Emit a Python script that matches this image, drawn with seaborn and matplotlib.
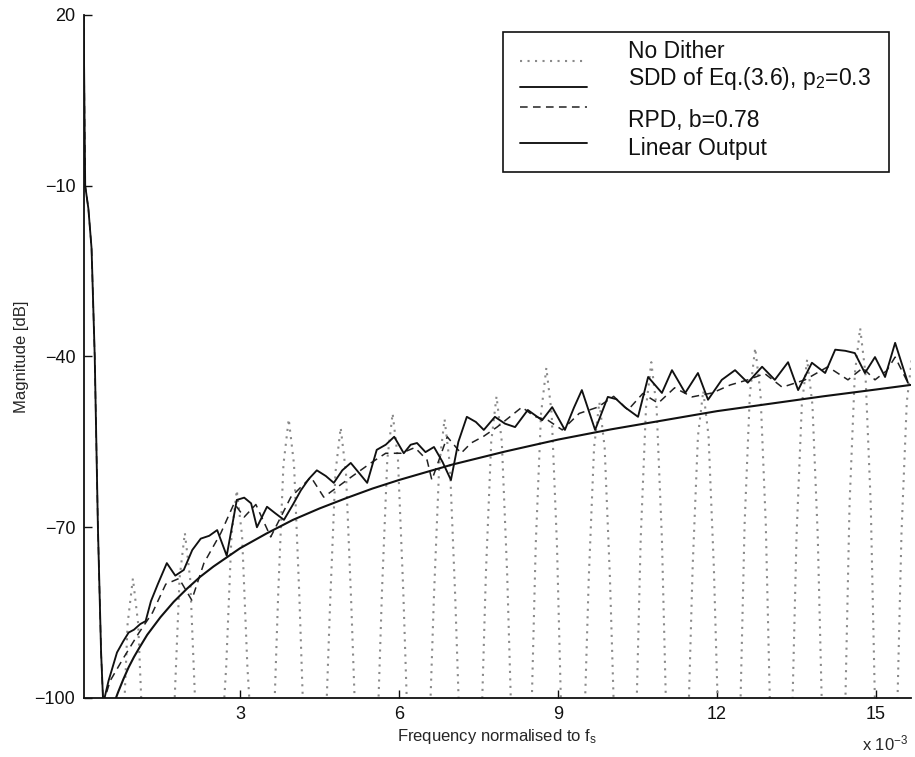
import matplotlib
matplotlib.use("Agg")
import matplotlib.pyplot as plt
from matplotlib.patches import Rectangle
from matplotlib.lines import Line2D
import pandas as pd
import seaborn as sns

# Frequency axis in units of 1e-3 (normalised to fs), magnitudes in dB.

# No dither: harmonic lobes (each lobe listed left leg -> peak -> right leg)
nodither_x = [
    0.68, 0.78, 0.88, 0.98, 1.08, 1.18, 1.28,
    1.66, 1.76, 1.86, 1.96, 2.06, 2.16, 2.26,
    2.64, 2.74, 2.84, 2.94, 3.04, 3.14, 3.24,
    3.62, 3.72, 3.82, 3.92, 4.02, 4.12, 4.22,
    4.60, 4.70, 4.80, 4.90, 5.00, 5.10, 5.20,
    5.58, 5.68, 5.78, 5.88, 5.98, 6.08, 6.18,
    6.56, 6.66, 6.76, 6.86, 6.96, 7.06, 7.16,
    7.54, 7.64, 7.74, 7.84, 7.94, 8.04, 8.14,
    8.48, 8.58, 8.68, 8.78, 8.88, 8.98, 9.08,
    9.48, 9.58, 9.68, 9.78, 9.88, 9.98, 10.08,
    10.46, 10.56, 10.66, 10.76, 10.86, 10.96, 11.06,
    11.44, 11.54, 11.64, 11.74, 11.84, 11.94, 12.04,
    12.42, 12.52, 12.62, 12.72, 12.82, 12.92, 13.02,
    13.40, 13.50, 13.60, 13.70, 13.80, 13.90, 14.00,
    14.40, 14.50, 14.60, 14.70, 14.80, 14.90, 15.00,
    15.38, 15.48, 15.58, 15.68, 15.78, 15.88, 15.98,
]
nodither_y = [
    -110, -110, -87, -79, -87, -110, -110,
    -110, -102, -79, -71, -79, -102, -110,
    -110, -94.5, -71.5, -63.5, -71.5, -94.5, -110,
    -110, -82, -59, -51, -59, -82, -110,
    -110, -83.5, -60.5, -52.5, -60.5, -83.5, -110,
    -110, -81, -58, -50, -58, -81, -110,
    -110, -82, -59, -51, -59, -82, -110,
    -110, -78, -55, -47, -55, -78, -110,
    -110, -73, -50, -42, -50, -73, -110,
    -110, -79, -56, -48, -56, -79, -110,
    -110, -72, -49, -41, -49, -72, -110,
    -110, -77, -54, -46, -54, -77, -110,
    -110, -69.5, -46.5, -38.5, -46.5, -69.5, -110,
    -110, -71.5, -48.5, -40.5, -48.5, -71.5, -110,
    -110, -66, -43, -35, -43, -66, -110,
    -110, -71, -48, -40, -48, -71, -110,
]

# SDD of Eq.(3.6), p2 = 0.3
sdd_x = [0.05, 0.08, 0.14, 0.20, 0.26, 0.32, 0.38, 0.42, 0.52, 0.68, 0.80, 0.90,
         1.00, 1.12, 1.22, 1.32, 1.45, 1.62, 1.78, 1.94, 2.10, 2.26, 2.42, 2.57,
         2.75, 2.94, 3.08, 3.21, 3.32, 3.51, 3.66, 3.83, 4.00, 4.15, 4.30, 4.45,
         4.62, 4.77, 4.93, 5.09, 5.25, 5.40, 5.58, 5.75, 5.91, 6.09, 6.22, 6.34,
         6.50, 6.66, 6.82, 6.98, 7.12, 7.28, 7.45, 7.60, 7.81, 8.00, 8.19, 8.43,
         8.70, 8.89, 9.13, 9.30, 9.45, 9.70, 9.94, 10.10, 10.26, 10.51, 10.70,
         10.96, 11.15, 11.40, 11.64, 11.83, 12.09, 12.34, 12.58, 12.85, 13.09,
         13.34, 13.53, 13.79, 14.04, 14.23, 14.42, 14.60, 14.79, 14.98, 15.17,
         15.36, 15.60]
sdd_y = [20, -10, -14, -21, -40, -70, -92, -101, -97, -92, -90, -88.5,
         -88, -87, -86.5, -83, -80, -76.3, -78.5, -77.5, -74, -72, -71.5, -70.5,
         -75, -65.2, -64.8, -65.8, -70, -66.4, -67.5, -68.7, -66, -63.5, -61.5, -60,
         -61, -62.2, -60, -58.7, -60.5, -62.2, -56.4, -55.5, -54.1, -57, -55.5, -55.2,
         -56.8, -55.9, -58.5, -61.7, -55, -50.6, -51.5, -52.9, -50.6, -51.8, -52.4, -49.4,
         -51.2, -48.9, -52.9, -49, -45.9, -52.9, -47.1, -47.5, -48.9, -50.6, -43.6,
         -46.4, -42.4, -46.4, -42.9, -47.6, -44.1, -42.4, -44.6, -41.8, -44.1,
         -41.0, -45.9, -41.1, -42.9, -38.8, -39.0, -39.4, -42.9, -40.1, -43.6,
         -37.6, -44.6]

# RPD, b = 0.78
rpd_x = [0.05, 0.08, 0.14, 0.20, 0.26, 0.32, 0.38, 0.42, 0.55, 0.80, 1.09, 1.35,
         1.60, 1.85, 2.09, 2.32, 2.64, 2.89, 3.08, 3.30, 3.58, 3.96, 4.34, 4.58,
         5.02, 5.47, 5.75, 6.04, 6.30, 6.53, 6.62, 6.91, 7.17, 7.36, 7.60, 7.85,
         8.32, 8.55, 8.81, 9.08, 9.40, 9.75, 10.05, 10.32, 10.60, 10.89, 11.20,
         11.53, 11.91, 12.25, 12.58, 12.90, 13.23, 13.66, 14.09, 14.47, 14.75,
         14.98, 15.20, 15.36, 15.60]
rpd_y = [20, -10, -14, -21, -40, -70, -92, -101, -97, -93, -88.6, -85,
         -80, -79, -82.8, -76.3, -71, -65.8, -68.2, -66, -71.7, -64.7, -61.2, -64.7,
         -61.7, -58.7, -57, -57, -56, -58.2, -61.7, -54.1, -57, -55.2, -54, -52.4,
         -48.9, -50.5, -51.2, -52.9, -50, -48.9, -47, -49.4, -46.5, -48.2, -45.5,
         -47.1, -46.4, -45, -44.1, -43, -45.4, -44.1, -41.8, -44.1, -42,
         -44.1, -42.5, -40.1, -44.6]

# Linear output
lin_x = [0.66, 0.70, 0.80, 0.90, 1.00, 1.10, 1.25, 1.50, 1.75, 2.00, 2.25, 2.50,
         3.00, 3.50, 4.00, 4.50, 5.00, 5.50, 6.00, 7.00, 8.00, 9.00, 10.00,
         11.00, 12.00, 13.00, 14.00, 15.00, 15.65]
lin_y = [-100.0, -99.0, -96.7, -94.6, -92.8, -91.2, -88.9, -85.8, -83.1, -80.8, -78.7, -76.9,
         -73.7, -71.1, -68.7, -66.7, -64.9, -63.2, -61.7, -59.0, -56.7, -54.6, -52.8,
         -51.2, -49.6, -48.3, -47.0, -45.8, -45.0]

legend_labels = ["No Dither", r"SDD of Eq.(3.6), p$_{\mathrm{2}}$=0.3",
                 "RPD, b=0.78", "Linear Output"]
x_ticks = [3, 6, 9, 12, 15]
y_ticks = [-100, -70, -40, -10, 20]

sns.set_style("ticks")
plt.rcParams["font.family"] = ["Liberation Sans", "DejaVu Sans"]
plt.rcParams["mathtext.fontset"] = "custom"
plt.rcParams["mathtext.rm"] = "Liberation Sans"
plt.rcParams["mathtext.it"] = "Liberation Sans:italic"

W, H = 915, 757
fig = plt.figure(figsize=(W / 100, H / 100), dpi=100)
ax = fig.add_axes([83.6 / W, 1 - 698 / H, (910.5 - 83.6) / W, (698 - 15) / H])

nd = pd.DataFrame({"f": nodither_x, "dB": nodither_y})
sd = pd.DataFrame({"f": sdd_x, "dB": sdd_y})
rp = pd.DataFrame({"f": rpd_x, "dB": rpd_y})
li = pd.DataFrame({"f": lin_x, "dB": lin_y})

dot_style = (0, (1, 2.6))
dash_style = (0, (5, 3.5))
gray = "#8a8a8a"

sns.lineplot(data=nd, x="f", y="dB", ax=ax, sort=False, estimator=None,
             color=gray, linewidth=1.5, linestyle=dot_style, zorder=1)
sns.lineplot(data=rp, x="f", y="dB", ax=ax, sort=False, estimator=None,
             color="#222222", linewidth=1.1, linestyle=dash_style, zorder=2)
sns.lineplot(data=sd, x="f", y="dB", ax=ax, sort=False, estimator=None,
             color="#111111", linewidth=1.35, zorder=3)
sns.lineplot(data=li, x="f", y="dB", ax=ax, sort=False, estimator=None,
             color="#111111", linewidth=1.5, zorder=4)

ax.set_xlim(0.05, 15.65)
ax.set_ylim(-100, 20)
ax.set_xticks(x_ticks)
ax.set_yticks(y_ticks)
ax.set_xticklabels([str(t) for t in x_ticks])
ax.set_yticklabels([str(t).replace("-", "\u2212") for t in y_ticks])
ax.tick_params(direction="in", length=6, width=1.0, labelsize=13, pad=6, colors="#111111")
sns.despine(ax=ax)
for s in ("left", "bottom"):
    ax.spines[s].set_linewidth(1.3)
    ax.spines[s].set_color("#111111")

ax.set_xlabel(r"Frequency normalised to f$_{\mathrm{s}}$", fontsize=12, labelpad=3)
ax.set_ylabel("Magnitude [dB]", fontsize=12, labelpad=4)
fig.text(862 / W, 1 - 750 / H, r"x 10$^{-3}$", fontsize=12, ha="left", va="baseline")

# Legend box
def fx(px):
    return px / W

def fy(py):
    return 1 - py / H

fig.patches.append(Rectangle((fx(503), fy(172)), fx(889) - fx(503), fy(32) - fy(172),
                             transform=fig.transFigure, facecolor="white",
                             edgecolor="#111111", linewidth=1.2, zorder=5))
sample_y = [61, 87, 107, 143]
sample_styles = [dict(color=gray, linewidth=1.5, linestyle=dot_style),
                 dict(color="#111111", linewidth=1.35, linestyle="-"),
                 dict(color="#222222", linewidth=1.1, linestyle=dash_style),
                 dict(color="#111111", linewidth=1.35, linestyle="-")]
for yy, st in zip(sample_y, sample_styles):
    fig.lines.append(Line2D([fx(520), fx(587)], [fy(yy), fy(yy)],
                            transform=fig.transFigure, zorder=6, **st))
text_base = [58, 85, 127, 155]
for lab, yy in zip(legend_labels, text_base):
    fig.text(fx(628), fy(yy), lab, fontsize=16.5, ha="left", va="baseline",
             color="#111111", zorder=7)

fig.savefig("out.png", dpi=100)
